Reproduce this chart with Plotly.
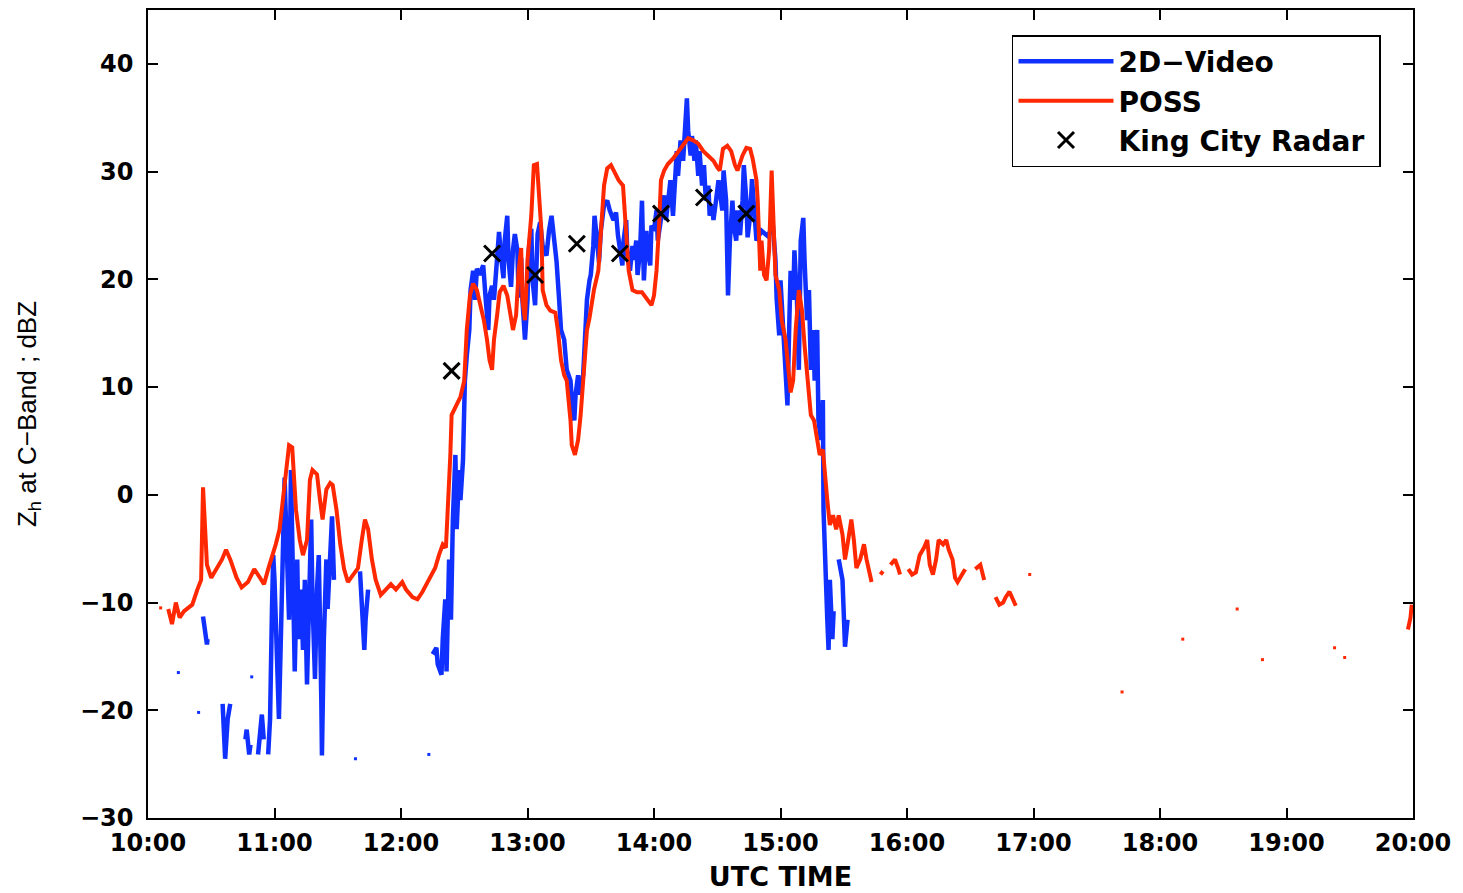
import plotly.graph_objects as go

# ---------------- data (time in decimal hours UTC, reflectivity in dBZ) ----------------
poss_time = [10.16, 10.19, 10.22, 10.25, 10.285, 10.35, 10.39, 10.42, 10.435, 10.45, 10.466, 10.50, 10.54,
             10.585, 10.617, 10.65, 10.70, 10.74, 10.79, 10.84, 10.885, 10.917, 10.95, 10.98, 11.01, 11.04,
             11.07, 11.09, 11.115, 11.14, 11.154, 11.17, 11.20, 11.225, 11.257, 11.28, 11.30, 11.336, 11.36,
             11.38, 11.41, 11.44, 11.46, 11.49, 11.52, 11.55, 11.58, 11.62, 11.66, 11.69, 11.715, 11.74, 11.77,
             11.80, 11.84, 11.88, 11.92, 11.96, 12.01, 12.04, 12.09, 12.13, 12.17, 12.21, 12.24, 12.27, 12.30,
             12.33, 12.355, 12.37, 12.39, 12.40, 12.435, 12.47, 12.50, 12.52, 12.545, 12.57, 12.60, 12.62,
             12.655, 12.68, 12.70, 12.72, 12.735, 12.76, 12.78, 12.81, 12.84, 12.86, 12.885, 12.91, 12.93,
             12.95, 12.96, 12.98, 13.00, 13.03, 13.05, 13.075, 13.09, 13.11, 13.12, 13.15, 13.18, 13.22, 13.24,
             13.265, 13.29, 13.31, 13.34, 13.35, 13.375, 13.40, 13.42, 13.45, 13.47, 13.49, 13.525, 13.56,
             13.58, 13.605, 13.63, 13.66, 13.69, 13.72, 13.755, 13.78, 13.80, 13.83, 13.866, 13.905, 13.945,
             13.98, 14.00, 14.02, 14.04, 14.055, 14.08, 14.11, 14.15, 14.19, 14.23, 14.27, 14.31, 14.35, 14.39,
             14.43, 14.47, 14.50, 14.52, 14.545, 14.58, 14.61, 14.64, 14.66, 14.70, 14.73, 14.76, 14.78, 14.81,
             14.82, 14.84, 14.85, 14.87, 14.89, 14.91, 14.93, 14.95, 14.96, 14.99, 15.01, 15.04, 15.06, 15.08,
             15.10, 15.12, 15.145, 15.17, 15.19, 15.22, 15.24, 15.265, 15.29, 15.31, 15.335, 15.35, 15.37,
             15.39, 15.415, 15.44, 15.46, 15.49, 15.51, 15.53, 15.56, 15.58, 15.60, 15.63, 15.66, 15.68, 15.71,
             15.72, None, 15.79, 15.81, None, 15.87, 15.905, 15.93, 15.945, None, 16.01, 16.04, 16.07, 16.10,
             16.135, 16.16, 16.18, 16.205, 16.23, 16.25, 16.285, 16.31, 16.33, 16.36, 16.38, 16.40, 16.435,
             16.46, None, 16.54, 16.58, 16.61, None, 16.70, 16.73, 16.76, 16.78, 16.81, 16.84, 16.86, None,
             19.96, 19.98, 19.99]
poss_dbz = [-10.6, -12.0, -10.0, -11.4, -10.8, -10.2, -8.8, -7.9, 0.7, -2.8, -6.5, -7.7, -6.9,
            -6.0, -5.1, -6.0, -7.7, -8.6, -8.1, -6.9, -7.7, -8.3, -6.9, -5.8, -4.6, -3.2,
            0.0, 1.9, 4.6, 4.4, 1.4, -1.4, -4.2, -5.6, -4.2, 1.4, 2.3, 1.9, -0.5,
            -2.3, 0.5, 1.1, 0.9, -1.4, -4.6, -6.9, -8.1, -7.4, -6.8, -4.2, -2.3, -3.2, -6.0,
            -7.9, -9.3, -8.8, -8.3, -8.8, -8.1, -8.8, -9.5, -9.7, -9.0, -8.1, -7.4, -6.8, -5.6,
            -4.6, -4.9, -1.9, 3.7, 7.4, 8.3, 9.1, 10.6, 15.3, 18.5, 19.6, 19.0, 18.1,
            16.2, 14.4, 12.5, 11.6, 14.4, 16.7, 18.8, 19.4, 18.5, 17.1, 15.3, 16.7, 20.8,
            22.9, 18.1, 16.2, 21.8, 25.9, 30.6, 30.7, 28.2, 24.5, 19.0, 17.6, 17.1, 16.9, 15.3,
            12.5, 11.1, 10.6, 6.9, 4.6, 3.7, 5.1, 7.4, 11.6, 15.3, 16.4, 19.0, 20.8,
            24.5, 28.7, 30.3, 30.6, 29.9, 29.2, 28.7, 24.5, 20.8, 19.0, 18.8, 18.8, 18.2,
            17.6, 18.5, 20.8, 25.0, 29.2, 30.1, 30.7, 31.2, 31.8, 32.4, 33.1, 32.9, 32.6, 31.9,
            31.5, 31.0, 30.4, 30.1, 32.1, 32.4, 31.9, 30.6, 30.1, 31.5, 32.2, 32.1, 31.2, 29.2,
            27.3, 20.8, 23.6, 20.4, 19.9, 22.7, 30.1, 24.5, 20.4, 19.0, 16.2, 14.4, 12.0, 9.5,
            10.6, 15.3, 19.0, 17.1, 13.9, 9.7, 7.4, 6.9, 5.1, 3.7, 4.2, 1.9, -0.5,
            -2.8, -1.9, -3.2, -1.9, -3.7, -6.0, -4.6, -2.3, -4.2, -6.8, -6.0, -4.6, -6.0, -7.9,
            -8.1, None, -7.4, -7.1, None, -6.5, -6.0, -6.8, -7.4, None, -6.9, -7.4, -7.2, -5.6,
            -4.9, -4.2, -6.5, -7.4, -6.0, -4.2, -4.6, -4.2, -5.1, -6.0, -7.7, -8.1, -7.4,
            -6.9, None, -6.9, -6.5, -7.9, None, -9.5, -10.2, -10.0, -9.5, -9.0, -9.7, -10.3, None,
            -12.5, -11.4, -10.2]

poss_dot_time = [10.10, 16.97, 17.70, 18.18, 18.61, 18.81, 19.38, 19.46]
poss_dot_dbz = [-10.5, -7.4, -18.3, -13.4, -10.6, -15.3, -14.2, -15.1]

video_time = [10.435, 10.45, 10.466, 10.47, None,
              10.59, 10.61, 10.63, 10.65, None,
              10.77, 10.78, 10.80, 10.81, None,
              10.87, 10.885, 10.90, 10.915, None,
              10.95, 10.965, 10.98, 10.99, 11.00, 11.02, 11.035, 11.05, 11.07, 11.08, 11.10, 11.115,
              11.13, 11.146, 11.16, 11.18, 11.19, 11.21, 11.225, 11.24, 11.257, 11.27, 11.29, 11.30,
              11.32, 11.336, 11.35, 11.37, 11.375, 11.39, 11.41, 11.42, 11.44, 11.455, 11.47, None,
              11.676, 11.69, 11.71, 11.72, 11.74, None,
              12.25, 12.28, 12.29, 12.32, 12.33, 12.35, 12.36, 12.38, 12.395, 12.41, 12.43, 12.44,
              12.46, 12.47, 12.49, 12.505, 12.52, 12.54, 12.55, 12.57, 12.585, 12.60, 12.62, 12.65,
              12.67, 12.69, 12.70, 12.72, 12.735, 12.76, 12.775, 12.79, 12.81, 12.82, 12.84, 12.85,
              12.87, 12.885, 12.90, 12.92, 12.93, 12.95, 12.96, 12.98, 13.00, 13.01, 13.03, 13.04,
              13.06, 13.08, 13.10, 13.12, 13.15, 13.17, 13.19, 13.22, 13.23, 13.25, 13.265, 13.29,
              13.31, 13.34, 13.35, 13.37, 13.38, 13.40, 13.415, 13.44, 13.455, 13.47, 13.49, 13.50,
              13.52, 13.53, 13.55, 13.565, 13.58, 13.605, 13.63, 13.65, 13.68, 13.70, 13.715, 13.73,
              13.75, 13.76, 13.78, 13.79, 13.81, 13.83, 13.84, 13.86, 13.87, 13.89, 13.905, 13.92,
              13.94, 13.95, 13.97, 13.98, 14.00, 14.02, 14.03, 14.05, 14.06, 14.08, 14.095, 14.11,
              14.13, 14.15, 14.17, 14.18, 14.19, 14.21, 14.23, 14.245, 14.26, 14.27, 14.29, 14.30,
              14.32, 14.33, 14.35, 14.36, 14.38, 14.395, 14.41, 14.43, 14.44, 14.46, 14.47, 14.49,
              14.51, 14.52, 14.54, 14.55, 14.57, 14.585, 14.60, 14.62, 14.63, 14.65, 14.66, 14.68,
              14.70, 14.71, 14.73, 14.74, 14.76, 14.775, 14.79, 14.81, 14.85, 14.90, 14.94, 14.96,
              14.97, 14.99, 15.00, 15.02, 15.04, 15.055, 15.07, 15.08, 15.10, 15.11, 15.13, 15.145,
              15.16, 15.18, 15.19, 15.21, 15.225, 15.24, 15.26, 15.27, 15.29, 15.30, 15.32, 15.335,
              15.34, 15.35, 15.37, 15.38, 15.39, 15.41, 15.42, None,
              15.46, 15.49, 15.51, 15.53]
video_dbz = [-11.3, -12.3, -13.9, -13.4, None,
             -19.4, -24.5, -20.8, -19.4, None,
             -22.7, -21.8, -24.1, -23.2, None,
             -24.1, -22.2, -20.4, -22.7, None,
             -24.1, -20.8, -10.6, -5.6, -7.9, -17.1, -20.8, -13.4, -2.3, 1.6, -6.0, -11.6,
             2.3, -9.7, -16.4, -6.0, -13.4, -8.8, -14.4, -7.9, -17.6, -11.6, -2.3, -9.7,
             -17.1, -8.8, -5.6, -19.0, -24.2, -13.4, -6.0, -10.6, -4.2, -2.0, -7.9, None,
             -7.1, -9.7, -14.4, -11.6, -8.8, None,
             -14.8, -14.2, -15.7, -16.7, -13.4, -9.7, -16.4, -6.0, -11.6, -2.3, 3.7, -3.2,
             2.3, -0.5, 3.2, 10.6, 12.9, 15.3, 19.0, 20.8, 18.1, 21.0, 20.4, 21.3,
             18.1, 15.3, 18.5, 19.4, 18.1, 21.8, 24.4, 22.2, 20.1, 23.6, 25.9, 21.8,
             19.3, 22.7, 24.2, 22.7, 18.3, 22.0, 18.1, 14.4, 18.1, 22.7, 24.7, 19.9,
             17.6, 24.2, 25.3, 23.1, 22.2, 24.5, 25.9, 22.7, 21.6, 18.1, 15.3, 14.4,
             11.6, 10.6, 8.8, 6.9, 9.3, 11.1, 9.3, 11.1, 14.4, 18.1, 19.9, 20.4,
             23.1, 25.9, 23.6, 21.6, 24.5, 26.9, 27.3, 26.4, 25.5, 26.2, 24.1, 23.1,
             21.3, 23.6, 25.5, 22.2, 20.8, 23.1, 21.8, 23.6, 20.4, 22.7, 27.3, 19.9,
             24.5, 22.7, 21.3, 25.0, 24.5, 26.4, 23.6, 25.2, 26.4, 27.8, 25.5, 26.9,
             29.2, 25.9, 29.6, 31.9, 29.6, 32.9, 31.0, 34.7, 36.8, 33.8, 31.5, 33.3,
             31.0, 32.9, 29.6, 31.9, 28.7, 30.6, 27.3, 28.7, 25.9, 26.9, 25.5, 27.3,
             29.2, 28.2, 26.4, 30.1, 27.3, 18.5, 23.6, 27.3, 25.0, 23.6, 26.4, 24.1,
             27.3, 30.6, 27.3, 23.9, 25.9, 29.3, 26.1, 23.6, 24.5, 24.0, 25.0, 21.8,
             18.1, 14.8, 19.9, 15.0, 10.6, 8.3, 16.2, 20.8, 18.1, 22.7, 18.1, 11.6,
             23.6, 25.7, 21.8, 16.2, 19.0, 11.6, 15.3, 10.6, 15.3, 6.9, 5.1, 8.8,
             -1.4, -6.0, -11.6, -14.4, -7.9, -13.4, -10.8, None,
             -6.0, -7.9, -14.1, -11.6]

video_dot_time = [10.24, 10.40, 10.82, 11.64, 12.22]
video_dot_dbz = [-16.5, -20.2, -16.9, -24.5, -24.1]

radar_time = [12.40, 12.72, 13.06, 13.39, 13.73, 14.055, 14.395, 14.73]
radar_dbz = [11.5, 22.4, 20.4, 23.3, 22.4, 26.1, 27.6, 26.1]

x_tick_vals = [10, 11, 12, 13, 14, 15, 16, 17, 18, 19, 20]
x_tick_text = ["10:00", "11:00", "12:00", "13:00", "14:00", "15:00", "16:00", "17:00", "18:00", "19:00", "20:00"]
y_tick_vals = [-30, -20, -10, 0, 10, 20, 30, 40]

BLUE = "rgb(16,48,255)"
RED = "rgb(255,40,0)"
BOLD_FONT = "DejaVu Sans"
TITLE_FONT = "Liberation Sans"

fig = go.Figure()
fig.add_trace(go.Scatter(x=video_time, y=video_dbz, mode="lines", name="2D\u2212Video\u00a0",
                         line=dict(color=BLUE, width=4.5), connectgaps=False))
fig.add_trace(go.Scatter(x=video_dot_time, y=video_dot_dbz, mode="markers", showlegend=False,
                         marker=dict(color=BLUE, size=3, symbol="square")))
fig.add_trace(go.Scatter(x=poss_time, y=poss_dbz, mode="lines", name="POSS\u00a0",
                         line=dict(color=RED, width=4), connectgaps=False))
fig.add_trace(go.Scatter(x=poss_dot_time, y=poss_dot_dbz, mode="markers", showlegend=False,
                         marker=dict(color=RED, size=3, symbol="square")))
fig.add_trace(go.Scatter(x=radar_time, y=radar_dbz, mode="markers", name="King City Radar\u00a0",
                         marker=dict(symbol="x-thin", size=16, color="black",
                                     line=dict(color="black", width=3))))

axis_common = dict(showgrid=False, zeroline=False, showline=True, linecolor="black", linewidth=1.5,
                   mirror="ticks", ticks="inside", ticklen=10, tickwidth=1.5, tickcolor="black",
                   automargin=False)

fig.update_layout(
    width=1463, height=893,
    paper_bgcolor="white", plot_bgcolor="white",
    margin=dict(l=140, r=58, t=2, b=83),
    font=dict(family=BOLD_FONT, color="black"),
    xaxis=dict(range=[10, 20], tickvals=x_tick_vals, ticktext=x_tick_text,
               tickfont=dict(size=24, family=BOLD_FONT, weight="bold"),
               ticklabelstandoff=2,
               title=dict(text="UTC TIME", font=dict(size=27, family=BOLD_FONT, weight="bold"), standoff=12),
               **axis_common),
    yaxis=dict(range=[-30, 45], tickvals=y_tick_vals,
               tickfont=dict(size=24, family=BOLD_FONT, weight="bold"),
               ticklabelstandoff=8,
               title=dict(text="Z<sub>h</sub> at C\u2212Band ; dBZ",
                          font=dict(size=26, family=TITLE_FONT), standoff=36),
               **axis_common),
    legend=dict(x=0.9747, y=0.969, xanchor="right", yanchor="top",
                bgcolor="white", bordercolor="black", borderwidth=1.5,
                font=dict(size=28, family=BOLD_FONT, weight="bold"),
                itemwidth=95, tracegroupgap=0),
    showlegend=True,
)

fig.write_html("out.html")
